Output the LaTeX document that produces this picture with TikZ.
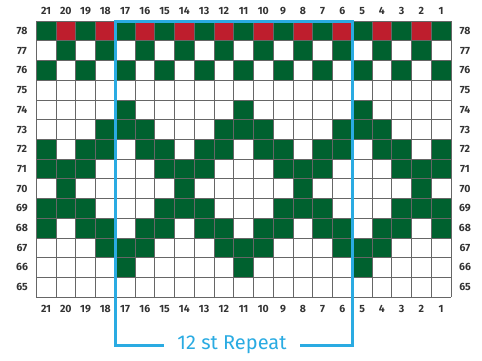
\documentclass[tikz,border=0pt]{standalone}
\usepackage{fontspec}
\setmainfont{Fira Sans}
\definecolor{chartgreen}{HTML}{00612F}
\definecolor{chartred}{HTML}{BE1E2D}
\definecolor{repblue}{HTML}{2AABE2}
\begin{document}
\begin{tikzpicture}[x=1pt,y=-1pt,
  numlbl/.style={font=\fontsize{10.5}{12}\selectfont\bfseries,text=black!80},
  gridln/.style={draw=black!60,line width=0.8pt}]
 \useasboundingbox (0,0) rectangle (482,361);
 \def\cw{19.75} \def\ch{19.7} \def\gx{36.2} \def\gy{21.2}
 \foreach \c in {1,3,...,21}{\fill[chartgreen] ({\gx+(21-\c)*\cw},\gy) rectangle ++(\cw,\ch);}
 \foreach \c in {2,4,...,20}{\fill[chartred] ({\gx+(21-\c)*\cw},\gy) rectangle ++(\cw,\ch);}
 \foreach \r/\cols in {77/{2,4,...,20},76/{1,3,...,21},74/{5,11,17},73/{4,5,6,10,11,12,16,17,18},
   72/{1,3,4,6,7,9,10,12,13,15,16,18,19,21},71/{1,2,3,7,8,9,13,14,15,19,20,21},70/{2,8,14,20},
   69/{1,2,3,7,8,9,13,14,15,19,20,21},68/{1,3,4,6,7,9,10,12,13,15,16,18,19,21},
   67/{4,5,6,10,11,12,16,17,18},66/{5,11,17}}{
  \foreach \c in \cols {\fill[chartgreen] ({\gx+(21-\c)*\cw},{\gy+(78-\r)*\ch}) rectangle ++(\cw,\ch);}}
 \foreach \i in {0,...,21}{\draw[gridln] ({\gx+\i*\cw},\gy) -- ({\gx+\i*\cw},{\gy+14*\ch});}
 \foreach \j in {0,...,14}{\draw[gridln] (\gx,{\gy+\j*\ch}) -- ({\gx+21*\cw},{\gy+\j*\ch});}
 \foreach \c in {1,...,21}{
  \node[numlbl] (top\c) at ({\gx+(21.5-\c)*\cw},11) {\c};
  \node[numlbl] (bot\c) at ({\gx+(21.5-\c)*\cw},309) {\c};}
 \foreach \r in {65,...,78}{
  \node[numlbl] (lft\r) at (22,{\gy+(78.5-\r)*\ch}) {\r};
  \node[numlbl] (rgt\r) at (465,{\gy+(78.5-\r)*\ch}) {\r};}
 \node[text=repblue,font=\fontsize{20}{24}\selectfont] (rep) at (232,345) {12 st Repeat};
 \coordinate (repL) at ({\gx+4*\cw},\gy); \coordinate (repR) at ({\gx+16*\cw},\gy);
 \draw[repblue,line width=3pt] ([xshift=-10pt]rep.west) -| (repL) -- (repR) |- ([xshift=10pt]rep.east);
\end{tikzpicture}
\end{document}
